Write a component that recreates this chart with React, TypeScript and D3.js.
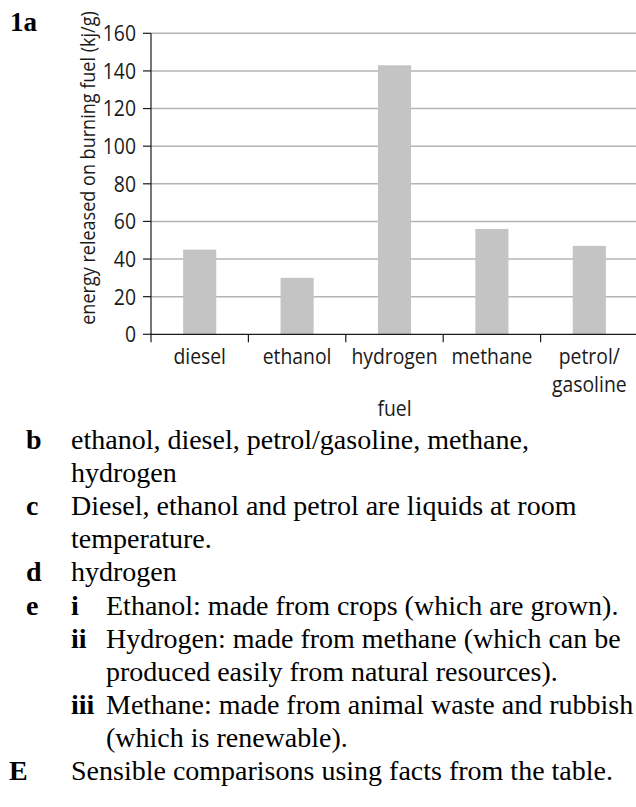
import { useEffect, useRef } from 'react'
import * as d3 from 'd3'

const fuels = ['diesel', 'ethanol', 'hydrogen', 'methane', 'petrol/gasoline']
const fuelLabels = [['diesel'], ['ethanol'], ['hydrogen'], ['methane'], ['petrol/', 'gasoline']]
const energy = [45, 30, 143, 56, 47]
const yTicks = [0, 20, 40, 60, 80, 100, 120, 140, 160]

const answerMarks = ['b', '', 'c', '', 'd', 'e', '', '', '', '', 'E']
const answerSubs = ['', '', '', '', '', 'i', 'ii', '', 'iii', '', '']
const answerTexts = [
  'ethanol, diesel, petrol/gasoline, methane,',
  'hydrogen',
  'Diesel, ethanol and petrol are liquids at room',
  'temperature.',
  'hydrogen',
  'Ethanol: made from crops (which are grown).',
  'Hydrogen: made from methane (which can be',
  'produced easily from natural resources).',
  'Methane: made from animal waste and rubbish',
  '(which is renewable).',
  'Sensible comparisons using facts from the table.',
]

const W = 636
const H = 807
const sans = '"Open Sans", "Liberation Sans", sans-serif'
const serif = '"Liberation Serif", "Times New Roman", serif'
const squeeze = 0.88 // the chart font is a condensed sans

export default function App() {
  const ref = useRef<SVGSVGElement>(null)

  useEffect(() => {
    if (!ref.current) return
    const svg = d3.select(ref.current)
    svg.selectAll('*').remove()

    const plot = { left: 151, right: 638, top: 33.3, bottom: 334.3 }
    const data = fuels.map((f, i) => ({ fuel: f, value: energy[i], label: fuelLabels[i] }))

    const x = d3.scaleBand().domain(fuels).range([plot.left, plot.right])
    const xBar = d3
      .scaleBand()
      .domain(fuels)
      .range([plot.left, plot.right])
      .paddingInner(0.66)
      .paddingOuter(0.33)
    const y = d3.scaleLinear().domain([0, 160]).range([plot.bottom, plot.top])

    // gridlines
    svg
      .append('g')
      .selectAll('line')
      .data(yTicks.filter((t) => t > 0))
      .join('line')
      .attr('x1', plot.left)
      .attr('x2', W)
      .attr('y1', (d) => y(d))
      .attr('y2', (d) => y(d))
      .attr('stroke', '#b4b4b4')
      .attr('stroke-width', 1.5)

    // bars
    svg
      .append('g')
      .selectAll('rect')
      .data(data)
      .join('rect')
      .attr('x', (d) => xBar(d.fuel) || 0)
      .attr('y', (d) => y(d.value))
      .attr('width', xBar.bandwidth())
      .attr('height', (d) => y(0) - y(d.value))
      .attr('fill', '#c4c4c4')

    // y axis ticks + labels
    svg
      .append('g')
      .selectAll('line')
      .data(yTicks)
      .join('line')
      .attr('x1', plot.left - 8)
      .attr('x2', plot.left)
      .attr('y1', (d) => y(d))
      .attr('y2', (d) => y(d))
      .attr('stroke', '#1a1a1a')
      .attr('stroke-width', 1.2)

    svg
      .append('g')
      .selectAll('text')
      .data(yTicks)
      .join('text')
      .attr('transform', (d) => `translate(${plot.left - 15},${y(d)}) scale(${squeeze},1)`)
      .attr('dy', '0.36em')
      .attr('text-anchor', 'end')
      .attr('fill', '#1a1a1a')
      .style('font-family', sans)
      .style('font-size', '22px')
      .text((d) => d)

    svg
      .append('line')
      .attr('x1', plot.left)
      .attr('x2', plot.left)
      .attr('y1', plot.top)
      .attr('y2', plot.bottom)
      .attr('stroke', '#1a1a1a')
      .attr('stroke-width', 1.2)

    // x axis
    svg
      .append('line')
      .attr('x1', plot.left)
      .attr('x2', W)
      .attr('y1', y(0))
      .attr('y2', y(0))
      .attr('stroke', '#1a1a1a')
      .attr('stroke-width', 1.2)

    svg
      .append('g')
      .selectAll('line')
      .data(fuels)
      .join('line')
      .attr('x1', (d) => x(d) || 0)
      .attr('x2', (d) => x(d) || 0)
      .attr('y1', y(0))
      .attr('y2', y(0) + 8)
      .attr('stroke', '#1a1a1a')
      .attr('stroke-width', 1.2)

    svg
      .append('g')
      .selectAll('text')
      .data(data)
      .join('text')
      .attr(
        'transform',
        (d) => `translate(${(x(d.fuel) || 0) + x.bandwidth() / 2},${y(0) + 30}) scale(${squeeze},1)`
      )
      .attr('text-anchor', 'middle')
      .attr('fill', '#1a1a1a')
      .style('font-family', sans)
      .style('font-size', '22px')
      .selectAll('tspan')
      .data((d) => d.label)
      .join('tspan')
      .attr('x', 0)
      .attr('dy', (_, i) => (i === 0 ? 0 : 27.5))
      .text((d) => d)

    svg
      .append('text')
      .attr('transform', `translate(${(plot.left + plot.right) / 2},416) scale(${squeeze},1)`)
      .attr('text-anchor', 'middle')
      .attr('fill', '#1a1a1a')
      .style('font-family', sans)
      .style('font-size', '22px')
      .text('fuel')

    svg
      .append('text')
      .attr('transform', `translate(95,168) rotate(-90) scale(${squeeze},1)`)
      .attr('text-anchor', 'middle')
      .attr('fill', '#1a1a1a')
      .style('font-family', sans)
      .style('font-size', '20.5px')
      .text('energy released on burning fuel (kj/g)')

    // question number
    svg
      .append('text')
      .attr('x', 10)
      .attr('y', 31)
      .attr('fill', '#000')
      .style('font-family', serif)
      .style('font-weight', 'bold')
      .style('font-size', '27px')
      .text('1a')

    // answers
    const lineH = 33.1
    const firstBase = 449
    const rows = answerTexts.map((t, i) => ({ mark: answerMarks[i], sub: answerSubs[i], text: t, i }))
    const indentSub = (r: { i: number }) => r.i >= 5 && r.i <= 9

    const g = svg.append('g').style('font-family', serif).style('font-size', '28px').attr('fill', '#000')
    g.selectAll('text.mark')
      .data(rows.filter((r) => r.mark))
      .join('text')
      .attr('class', 'mark')
      .attr('x', (d) => (d.mark === 'E' ? 9 : 26))
      .attr('y', (d) => firstBase + d.i * lineH)
      .style('font-weight', 'bold')
      .text((d) => d.mark)
    g.selectAll('text.sub')
      .data(rows.filter((r) => r.sub))
      .join('text')
      .attr('class', 'sub')
      .attr('x', 71)
      .attr('y', (d) => firstBase + d.i * lineH)
      .style('font-weight', 'bold')
      .text((d) => d.sub)
    g.selectAll('text.body')
      .data(rows)
      .join('text')
      .attr('class', 'body')
      .attr('x', (d) => (indentSub(d) ? 106 : 71))
      .attr('y', (d) => firstBase + d.i * lineH)
      .text((d) => d.text)
  }, [])

  return (
    <svg
      ref={ref}
      width={W}
      height={H}
      style={{ position: 'absolute', left: 0, top: 0, display: 'block', background: '#fff' }}
    />
  )
}
